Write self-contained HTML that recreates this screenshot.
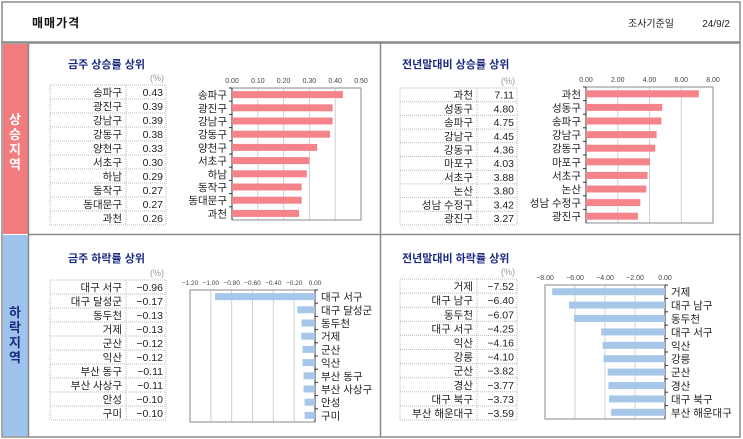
<!DOCTYPE html>
<html><head><meta charset="utf-8">
<style>
html,body{margin:0;padding:0;background:#fff;}
svg{display:block;font-family:"Liberation Sans","Noto Sans CJK KR",sans-serif;}
</style></head>
<body>
<svg id="s" width="743" height="439" viewBox="0 0 743 439" xmlns="http://www.w3.org/2000/svg">
  <rect x="2" y="2" width="738" height="40" fill="#fff" stroke="#8a8a8a" stroke-width="1.5"/>
  <text x="32" y="27" font-size="12" font-weight="bold" fill="#111" letter-spacing="1">매매가격</text>
  <text x="628" y="27" font-size="10" fill="#222">조사기준일</text>
  <text x="730" y="27" font-size="10" fill="#222" text-anchor="end">24/9/2</text>
  <rect x="2" y="43" width="738" height="394" fill="#fff" stroke="#8a8a8a" stroke-width="1.5"/>
  <rect x="3" y="44" width="25" height="190" fill="#f27b7e"/>
  <rect x="3" y="235" width="25" height="201" fill="#9dc3ec"/>
  <g font-size="13" font-weight="bold" fill="#fff" text-anchor="middle">
    <text x="15" y="124">상</text><text x="15" y="139">승</text><text x="15" y="154">지</text><text x="15" y="169">역</text>
  </g>
  <g font-size="13" font-weight="bold" fill="#1b2a80" text-anchor="middle">
    <text x="15" y="317">하</text><text x="15" y="332">락</text><text x="15" y="347">지</text><text x="15" y="362">역</text>
  </g>
  <line x1="28.5" y1="43" x2="28.5" y2="437" stroke="#8a8a8a" stroke-width="1.5"/>
  <line x1="380.5" y1="43" x2="380.5" y2="437" stroke="#8a8a8a" stroke-width="1.5"/>
  <line x1="28" y1="234.5" x2="740" y2="234.5" stroke="#8a8a8a" stroke-width="1.5"/>
  <g id="panels"></g>
</svg>
<script>
// Panel 1: weekly rise top
const p1Categories = ["송파구","광진구","강남구","강동구","양천구","서초구","하남","동작구","동대문구","과천"];
const p1Values = [0.43,0.39,0.39,0.38,0.33,0.30,0.29,0.27,0.27,0.26];
const p1Ticks = ["0.00","0.10","0.20","0.30","0.40","0.50"];
const p1TickValues = [0,0.1,0.2,0.3,0.4,0.5];
// Panel 2: YTD rise top
const p2Categories = ["과천","성동구","송파구","강남구","강동구","마포구","서초구","논산","성남 수정구","광진구"];
const p2Values = [7.11,4.80,4.75,4.45,4.36,4.03,3.88,3.80,3.42,3.27];
const p2Ticks = ["0.00","2.00","4.00","6.00","8.00"];
const p2TickValues = [0,2,4,6,8];
// Panel 3: weekly fall top
const p3Categories = ["대구 서구","대구 달성군","동두천","거제","군산","익산","부산 동구","부산 사상구","안성","구미"];
const p3Values = [-0.96,-0.17,-0.13,-0.13,-0.12,-0.12,-0.11,-0.11,-0.10,-0.10];
const p3Ticks = ["-1.20","-1.00","-0.80","-0.60","-0.40","-0.20","0.00"];
const p3TickValues = [-1.2,-1.0,-0.8,-0.6,-0.4,-0.2,0];
// Panel 4: YTD fall top
const p4Categories = ["거제","대구 남구","동두천","대구 서구","익산","강릉","군산","경산","대구 북구","부산 해운대구"];
const p4Values = [-7.52,-6.40,-6.07,-4.25,-4.16,-4.10,-3.82,-3.77,-3.73,-3.59];
const p4Ticks = ["-8.00","-6.00","-4.00","-2.00","0.00"];
const p4TickValues = [-8,-6,-4,-2,0];

const NS="http://www.w3.org/2000/svg";
const root=document.getElementById('panels');
function mk(tag,attrs,parent,text){const e=document.createElementNS(NS,tag);for(const k in attrs)e.setAttribute(k,attrs[k]);if(text!==undefined)e.textContent=text;(parent||root).appendChild(e);return e;}

function panel(c){
  const g=mk('g',{});
  
  
  const t=mk('text',{x:c.titleX,y:c.titleY,'font-size':11,'font-weight':'bold',fill:'#1b2a80'},g,c.title);
  
  
  const u=mk('text',{x:c.tx+c.tw-2,y:c.ty-4,'font-size':9,fill:'#999','text-anchor':'end'},g,'(%)');
  
  
  // table
  const n=c.cats.length, rh=(c.tb-c.ty)/n;
  const tbl=mk('g',{},g);
  
  
  mk('rect',{x:c.tx,y:c.ty,width:c.tw,height:c.tb-c.ty,fill:'none',stroke:'#bbb','stroke-dasharray':'1,1'},tbl);
  mk('line',{x1:c.tx+c.nameW,y1:c.ty,x2:c.tx+c.nameW,y2:c.tb,stroke:'#bbb','stroke-dasharray':'1,1'},tbl);
  c.cats.forEach((cat,i)=>{
    const y=c.ty+rh*i;
    if(i>0) mk('line',{x1:c.tx,y1:y,x2:c.tx+c.tw,y2:y,stroke:'#bbb','stroke-dasharray':'1,1'},tbl);
    const nm=mk('text',{x:c.tx+c.nameW-4,y:y+rh-3,'font-size':10.5,fill:'#222','text-anchor':'end'},tbl,cat);
    
    
    const vv=mk('text',{x:c.tx+c.tw-3,y:y+rh-3,'font-size':10.5,fill:'#222','text-anchor':'end'},tbl,c.vals[i].toFixed(2).replace('-','\u2212'));
    
    
  });
  // chart
  const xs=v=>c.px0+(v-c.min)/(c.max-c.min)*(c.px1-c.px0);
  const ch=mk('g',{},g);
  
  
  c.tickVals.forEach((tv,i)=>{
    const x=xs(tv);
    mk('line',{x1:x,y1:c.py0,x2:x,y2:c.py1,stroke:'#cfcfcf'},ch);
    const tl=mk('text',{x:x,y:c.py0-5,'font-size':c.tickFs,fill:'#444','text-anchor':'middle'},ch,c.ticks[i].replace(/-/g,'\u2212'));
    
    
  });
  mk('rect',{x:c.px0,y:c.py0,width:c.px1-c.px0,height:c.py1-c.py0,fill:'none',stroke:'#888'},ch);
  const bh=(c.py1-c.py0)/n, ax=xs(0);
  mk('line',{x1:ax,y1:c.py0,x2:ax,y2:c.py1,stroke:'#333'},ch);
  c.cats.forEach((cat,i)=>{
    const y=c.py0+bh*i;
    mk('line',{x1:ax,y1:y,x2:ax+(c.neg?3:-3),y2:y,stroke:'#333'},ch);
    const x0=Math.min(ax,xs(c.vals[i])), w=Math.abs(xs(c.vals[i])-ax);
    const b=mk('rect',{x:x0,y:y+bh/2-3.5,width:w,height:7,fill:c.color},ch);
    
    
    const lx=c.neg?ax+6:ax-5;
    const cl=mk('text',{x:lx,y:y+bh/2+4,'font-size':10.5,fill:'#222','text-anchor':c.neg?'start':'end'},ch,cat);
    
    
  });
}

panel({name:'weekly-rise-panel',title:'금주 상승률 상위',titleX:68,titleY:68,cats:p1Categories,vals:p1Values,ticks:p1Ticks,tickVals:p1TickValues,
  tx:50,ty:85,tw:116,tb:225,nameW:76,px0:232,px1:361,py0:88,py1:220,min:0,max:0.5,color:'#f4848a',neg:false,tickFs:7});
panel({name:'ytd-rise-panel',title:'전년말대비 상승률 상위',titleX:402,titleY:68,cats:p2Categories,vals:p2Values,ticks:p2Ticks,tickVals:p2TickValues,
  tx:400,ty:88,tw:117,tb:225,nameW:77,px0:586,px1:713,py0:87,py1:223,min:0,max:8,color:'#f4848a',neg:false,tickFs:7});
panel({name:'weekly-fall-panel',title:'금주 하락률 상위',titleX:68,titleY:262,cats:p3Categories,vals:p3Values,ticks:p3Ticks,tickVals:p3TickValues,
  tx:50,ty:280,tw:116,tb:420,nameW:76,px0:190,px1:315,py0:290,py1:422,min:-1.2,max:0,color:'#a6c7ea',neg:true,tickFs:6.5});
panel({name:'ytd-fall-panel',title:'전년말대비 하락률 상위',titleX:402,titleY:262,cats:p4Categories,vals:p4Values,ticks:p4Ticks,tickVals:p4TickValues,
  tx:400,ty:279,tw:117,tb:420,nameW:77,px0:545,px1:665,py0:285,py1:419,min:-8,max:0,color:'#a6c7ea',neg:true,tickFs:7});
</script>
</body></html>
